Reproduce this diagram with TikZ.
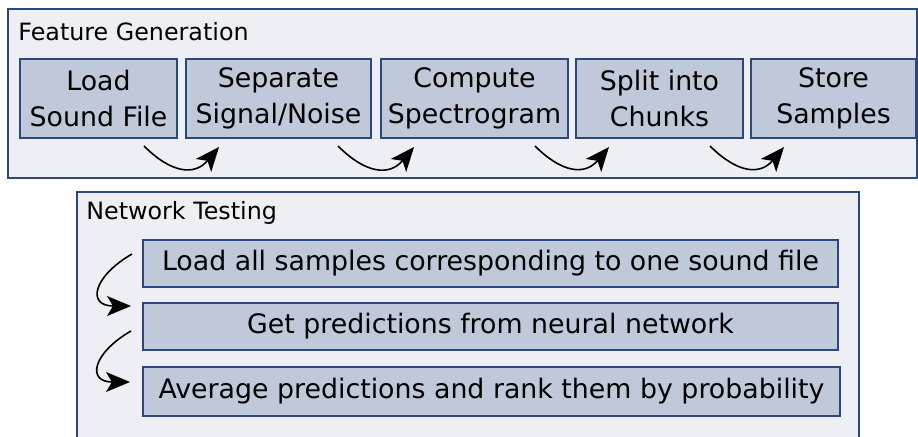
\documentclass[tikz,border=0pt]{standalone}
\usepackage{fontspec}
\setmainfont{DejaVu Sans}
\usetikzlibrary{arrows.meta}

\definecolor{panelfill}{RGB}{238,239,244}
\definecolor{boxfill}{RGB}{191,201,218}
\definecolor{edgeblue}{RGB}{42,72,128}

\tikzset{
  panel/.style={fill=panelfill, draw=edgeblue, line width=1pt},
  stepbox/.style={fill=boxfill, draw=edgeblue, line width=1pt, align=center,
    inner sep=0pt, font=\fontsize{13.4}{18}\selectfont},
  title/.style={anchor=west, inner sep=0pt, font=\fontsize{11.9}{14}\selectfont},
  flow/.style={-{Stealth[length=12pt,width=10pt,inset=3pt]}, line width=0.8pt},
}

\begin{document}
\begin{tikzpicture}[x=0.5pt, y=-0.5pt]

\useasboundingbox (0,0) rectangle (918,436);

% feature generation
\draw[panel] (8,9) rectangle (917,178);
\node[title] (fgtitle) at (18,32) {Feature Generation};

\node[stepbox, minimum width=78.5pt, minimum height=39.5pt] (load) at (98.5,98.5) {Load\\Sound File};
\node[stepbox, minimum width=92.5pt, minimum height=39.5pt] (sep) at (278.5,98.5) {Separate\\Signal/Noise};
\node[stepbox, minimum width=93.5pt, minimum height=39.5pt] (spec) at (474.5,98.5) {Compute\\Spectrogram};
\node[stepbox, minimum width=83.5pt, minimum height=39.5pt] (split) at (659.5,98.5) {Split into\\Chunks};
\node[stepbox, minimum width=82.5pt, minimum height=39.5pt] (store) at (833.5,98.5) {Store\\Samples};

\draw[flow] ([xshift=-17pt,yshift=-3.5pt]load.south east) to[out=-45,in=-130,looseness=1.3] ([xshift=17pt,yshift=-4pt]sep.south west);
\draw[flow] ([xshift=-17pt,yshift=-3.5pt]sep.south east) to[out=-45,in=-130,looseness=1.3] ([xshift=17pt,yshift=-4pt]spec.south west);
\draw[flow] ([xshift=-17pt,yshift=-3.5pt]spec.south east) to[out=-45,in=-130,looseness=1.3] ([xshift=17pt,yshift=-4pt]split.south west);
\draw[flow] ([xshift=-17pt,yshift=-3.5pt]split.south east) to[out=-45,in=-130,looseness=1.3] ([xshift=17pt,yshift=-4pt]store.south west);

% network testing
\draw[panel] (77,192) rectangle (859,460);
\node[title] (nttitle) at (86,213) {Network Testing};

\node[stepbox, minimum width=347.5pt, minimum height=23.5pt] (samples) at (490.5,263.5) {Load all samples corresponding to one sound file};
\node[stepbox, minimum width=347.5pt, minimum height=23.5pt] (predict) at (490.5,326.5) {Get predictions from neural network};
\node[stepbox, minimum width=348.5pt, minimum height=24.5pt] (rank) at (491.5,391.5) {Average predictions and rank them by probability};

\draw[flow] ([xshift=-5pt,yshift=-7.5pt]samples.north west) to[out=-150,in=180,looseness=2.2] ([xshift=-5.5pt,yshift=-2pt]predict.north west);
\draw[flow] ([xshift=-5.5pt,yshift=-14.5pt]predict.north west) to[out=-150,in=180,looseness=2.2] ([xshift=-6pt,yshift=-8pt]rank.north west);

\end{tikzpicture}
\end{document}
